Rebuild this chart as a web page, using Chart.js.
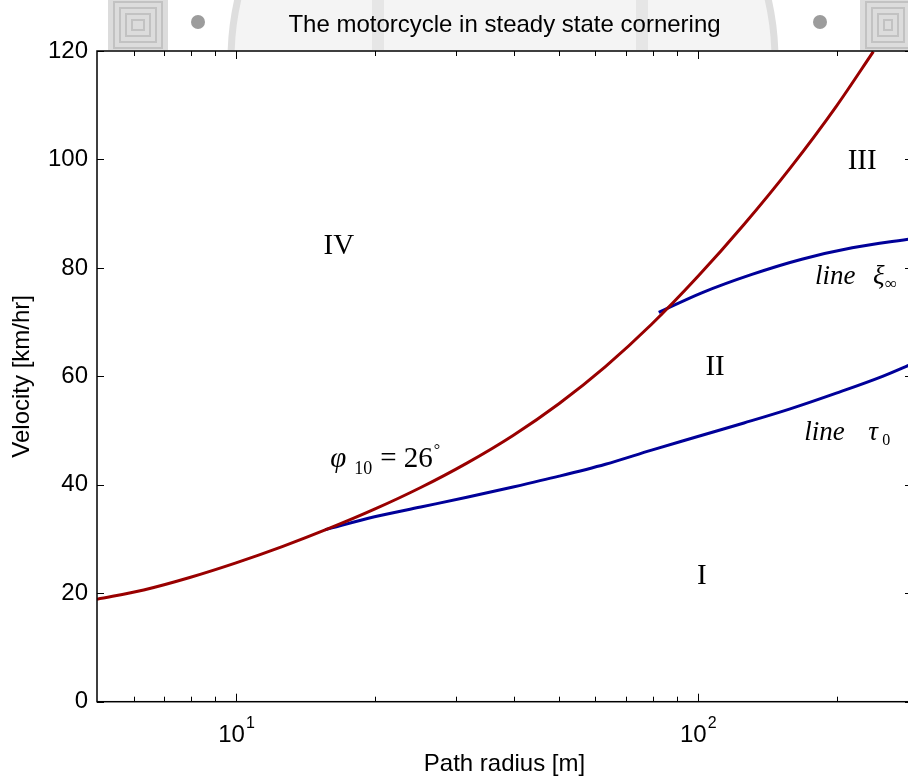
<!DOCTYPE html>
<html>
<head>
<meta charset="utf-8">
<script src="https://cdn.jsdelivr.net/npm/chart.js@4.4.1/dist/chart.umd.min.js"></script>
<style>
html, body { margin: 0; padding: 0; background: #fff; overflow: hidden; width: 908px; height: 779px; }
#wrap { position: relative; width: 916px; height: 779px; }
canvas { display: block; }
</style>
</head>
<body>
<div id="wrap"><canvas id="c" width="916" height="779" style="width:916px;height:779px"></canvas></div>
<script>
// stability boundary phi10 = 26 deg (red)
var boundaryR = [5, 6.31, 7.94, 10, 12.59, 15.85, 19.95, 25.12, 31.62, 39.81, 50.12, 63.1, 79.43, 100, 125.9, 158.5, 199.5, 240];
var boundaryV = [18.9, 20.6, 22.9, 25.6, 28.6, 31.9, 35.5, 39.5, 44.0, 49.1, 55.0, 61.8, 69.6, 78.4, 88.0, 98.4, 109.8, 119.9];
// line tau0 (blue)
var tauR = [15.6, 19.95, 25.12, 31.62, 39.81, 50.12, 63.1, 79.43, 100, 125.9, 158.5, 199.5, 251.2, 291];
var tauV = [31.7, 34.1, 35.9, 37.7, 39.6, 41.6, 43.8, 46.4, 48.9, 51.4, 54.0, 56.9, 60.0, 62.3];
// line xi_inf (blue)
var xiR = [82.3, 102, 131, 168, 216, 291];
var xiV = [71.8, 75.4, 78.8, 81.6, 83.7, 85.4];

var xMajor = [10, 100];
var xMinor = [6, 7, 8, 9, 20, 30, 40, 50, 60, 70, 80, 90, 200];
var yTicks = [0, 20, 40, 60, 80, 100, 120];
var regionLabels = ['IV', 'III', 'II', 'I'];
var regionR = [16.7, 227, 109, 102];
var regionV = [84, 99.7, 61.6, 23.1];

function pts(r, v) {
    return r.map(function(x, i) { return {x: x, y: v[i]}; });
}

var sans = "'Liberation Sans', Arial, sans-serif";
var serif = "'Liberation Serif', 'Times New Roman', serif";

var figurePlugin = {
    id: 'figure',
    beforeDraw: function(chart) {
        var ctx = chart.ctx;
        ctx.save();
        ctx.fillStyle = '#fff';
        ctx.fillRect(0, 0, chart.width, chart.height);
        // faded header watermark
        ctx.beginPath();
        ctx.rect(100, 0, chart.width, 50);
        ctx.clip();
        ctx.fillStyle = '#f4f4f4';
        ctx.beginPath(); ctx.arc(503, 60, 272, 0, Math.PI * 2); ctx.fill();
        ctx.strokeStyle = '#dedede'; ctx.lineWidth = 7; ctx.stroke();
        ctx.fillStyle = '#e6e6e6';
        ctx.fillRect(372, 0, 12, 50); ctx.fillRect(636, 0, 12, 50);
        [[108, 60], [860, 56]].forEach(function(s) {
            ctx.fillStyle = '#dcdcdc';
            ctx.fillRect(s[0], 0, s[1], 50);
            ctx.strokeStyle = '#c2c2c2'; ctx.lineWidth = 2;
            for (var k = 6; k < 26; k += 6) ctx.strokeRect(s[0] + k, k - 4, s[1] - 2 * k, 50 - 2 * k + 8);
        });
        ctx.fillStyle = '#9c9c9c';
        ctx.beginPath(); ctx.arc(198, 22, 7, 0, Math.PI * 2); ctx.fill();
        ctx.beginPath(); ctx.arc(820, 22, 7, 0, Math.PI * 2); ctx.fill();
        ctx.restore();
        var a = chart.chartArea;
        ctx.fillStyle = '#fff';
        ctx.fillRect(a.left, a.top, a.right - a.left, a.bottom - a.top);
    },
    afterDraw: function(chart) {
        var ctx = chart.ctx, a = chart.chartArea;
        var xs = chart.scales.x, ys = chart.scales.y;
        ctx.save();
        ctx.strokeStyle = '#000';
        ctx.lineWidth = 1.5;
        ctx.strokeRect(a.left, a.top, a.right - a.left, a.bottom - a.top);
        ctx.lineWidth = 1;
        ctx.beginPath();
        xMajor.concat(xMinor).forEach(function(v) {
            var len = xMajor.indexOf(v) >= 0 ? 8 : 5;
            var p = Math.round(xs.getPixelForValue(v)) + 0.5;
            ctx.moveTo(p, a.bottom); ctx.lineTo(p, a.bottom - len);
            ctx.moveTo(p, a.top); ctx.lineTo(p, a.top + len);
        });
        yTicks.forEach(function(v) {
            var p = Math.round(ys.getPixelForValue(v)) + 0.5;
            ctx.moveTo(a.left, p); ctx.lineTo(a.left + 7, p);
            ctx.moveTo(a.right, p); ctx.lineTo(a.right - 7, p);
        });
        ctx.stroke();

        // decade labels 10^1, 10^2
        ctx.fillStyle = '#000';
        ctx.textBaseline = 'alphabetic';
        ctx.textAlign = 'left';
        xMajor.forEach(function(v, i) {
            var exp = String(i + 1);
            ctx.font = '24px ' + sans;
            var w1 = ctx.measureText('10').width;
            ctx.font = '16px ' + sans;
            var w2 = ctx.measureText(exp).width;
            var x0 = xs.getPixelForValue(v) - (w1 + w2) / 2;
            ctx.font = '24px ' + sans;
            ctx.fillText('10', x0, 742);
            ctx.font = '16px ' + sans;
            ctx.fillText(exp, x0 + w1 + 1, 728);
        });

        // region numerals
        ctx.font = '29px ' + serif;
        ctx.textAlign = 'center';
        ctx.textBaseline = 'middle';
        regionLabels.forEach(function(t, i) {
            ctx.fillText(t, xs.getPixelForValue(regionR[i]), ys.getPixelForValue(regionV[i]));
        });

        ctx.textAlign = 'left';
        ctx.textBaseline = 'alphabetic';
        // phi_10 = 26 deg
        var px = xs.getPixelForValue(16.0), py = ys.getPixelForValue(43.2);
        ctx.font = 'italic 29px ' + serif;
        ctx.fillText('\u03C6', px, py);
        ctx.font = '18px ' + serif;
        ctx.fillText('10', px + 24, py + 7);
        ctx.font = '29px ' + serif;
        ctx.fillText('= 26', px + 50, py);
        var w = ctx.measureText('= 26').width;
        ctx.font = '16px ' + serif;
        ctx.fillText('\u00B0', px + 51 + w, py - 12);

        // line xi_inf
        px = xs.getPixelForValue(179.5); py = ys.getPixelForValue(77.0);
        ctx.font = 'italic 27px ' + serif;
        ctx.fillText('line', px, py);
        ctx.fillText('\u03BE', px + 58, py);
        ctx.font = '17px ' + serif;
        ctx.fillText('\u221E', px + 70, py + 5);

        // line tau0
        px = xs.getPixelForValue(170); py = ys.getPixelForValue(48.3);
        ctx.font = 'italic 27px ' + serif;
        ctx.fillText('line', px, py);
        ctx.fillText('\u03C4', px + 64, py);
        ctx.font = '16px ' + serif;
        ctx.fillText('0', px + 78, py + 5);
        ctx.restore();
    }
};

var ctx = document.getElementById('c').getContext('2d');
window.cornering = new Chart(ctx, {
    type: 'line',
    data: {
        datasets: [{
            label: 'phi10 = 26',
            data: pts(boundaryR, boundaryV),
            borderColor: '#990000',
            borderWidth: 3,
            pointRadius: 0,
            cubicInterpolationMode: 'monotone',
            order: 0
        }, {
            label: 'line tau0',
            data: pts(tauR, tauV),
            borderColor: '#000099',
            borderWidth: 3,
            pointRadius: 0,
            cubicInterpolationMode: 'monotone',
            order: 1
        }, {
            label: 'line xi',
            data: pts(xiR, xiV),
            borderColor: '#000099',
            borderWidth: 3,
            pointRadius: 0,
            cubicInterpolationMode: 'monotone',
            order: 1
        }]
    },
    options: {
        responsive: false,
        animation: false,
        devicePixelRatio: 1,
        layout: { padding: { left: 0, right: 4, top: 0, bottom: 0 } },
        plugins: {
            legend: { display: false },
            tooltip: { enabled: false },
            title: {
                display: true,
                fullSize: false,
                text: 'The motorcycle in steady state cornering',
                color: '#000',
                font: { family: sans, size: 24, weight: 'normal' },
                padding: { top: 10.6, bottom: 11.6 }
            }
        },
        scales: {
            x: {
                type: 'logarithmic',
                min: 5,
                max: 291,
                grid: { display: false, drawTicks: false },
                border: { display: false },
                ticks: { display: false },
                title: {
                    display: true,
                    text: 'Path radius [m]',
                    color: '#000',
                    font: { family: sans, size: 24 },
                    padding: { top: 0, bottom: 0.6 }
                },
                afterFit: function(s) { s.height = 77.3; }
            },
            y: {
                min: 0,
                max: 120,
                grid: { display: false, drawTicks: false },
                border: { display: false },
                ticks: {
                    stepSize: 20,
                    color: '#000',
                    padding: 9,
                    font: { family: sans, size: 24 }
                },
                title: {
                    display: true,
                    text: 'Velocity [km/hr]',
                    color: '#000',
                    font: { family: sans, size: 24 },
                    padding: { top: 7.6, bottom: 0 }
                },
                afterFit: function(s) { s.width = 97; }
            }
        }
    },
    plugins: [figurePlugin]
});
</script>
</body>
</html>
